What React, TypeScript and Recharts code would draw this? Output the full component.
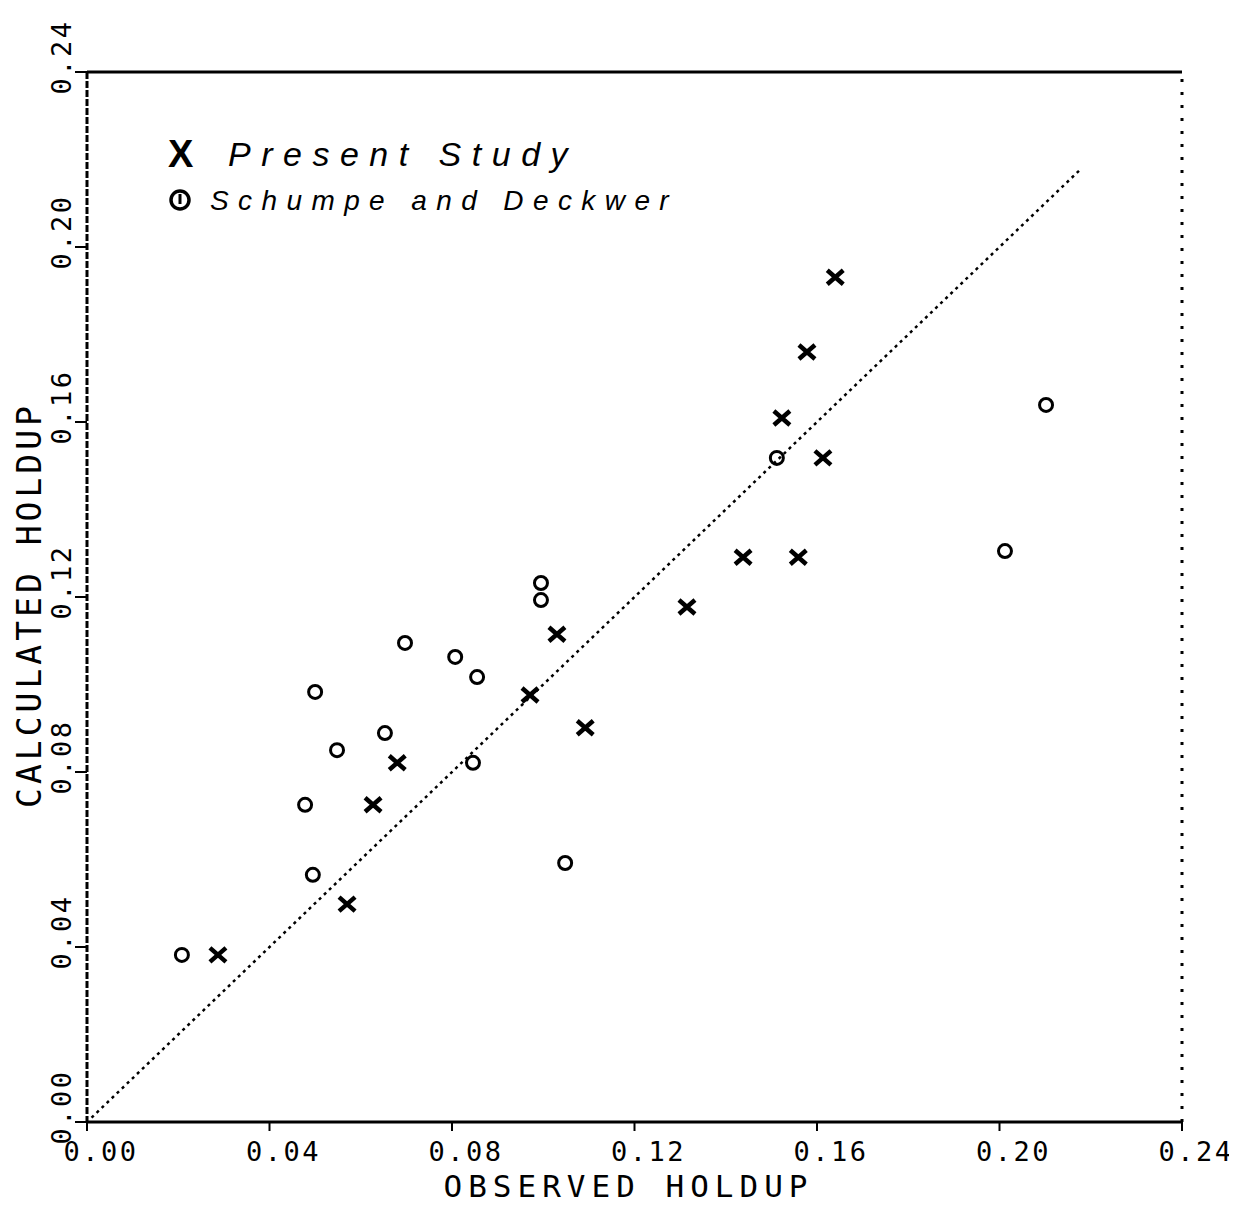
import React from 'react';
import { ScatterChart, Scatter, XAxis, YAxis, ReferenceLine, Legend, Label } from 'recharts';

// ---- data ----
const axisTicks = [0, 0.04, 0.08, 0.12, 0.16, 0.2, 0.24];
const xTickLabels = ['0.00', '0.04', '0.08', '0.12', '0.16', '0.20', '0.24'];
const yTickLabels = ['0.00', '0.04', '0.08', '0.12', '0.16', '0.20', '0.24'];

const presentObserved = [0.0287, 0.057, 0.0627, 0.068, 0.0971, 0.103, 0.1092, 0.1315, 0.1438, 0.1559, 0.1523, 0.1613, 0.1578, 0.164];
const presentCalculated = [0.0382, 0.0498, 0.0725, 0.0821, 0.0976, 0.1115, 0.0901, 0.1177, 0.1291, 0.1291, 0.1609, 0.1518, 0.176, 0.1931];

const schumpeObserved = [0.0208, 0.0495, 0.0478, 0.0548, 0.05, 0.0653, 0.0697, 0.0807, 0.0855, 0.0846, 0.0995, 0.0995, 0.1048, 0.1512, 0.2012, 0.2102];
const schumpeCalculated = [0.0382, 0.0565, 0.0725, 0.085, 0.0983, 0.0889, 0.1095, 0.1063, 0.1017, 0.0821, 0.1232, 0.1193, 0.0592, 0.1518, 0.1305, 0.1639];

const parityLine = [{ x: 0.001, y: 0.001 }, { x: 0.218, y: 0.218 }];

const seriesNames = ['Present Study', 'Schumpe and Deckwer'];
const xAxisTitle = 'OBSERVED HOLDUP';
const yAxisTitle = 'CALCULATED HOLDUP';

const presentData = presentObserved.map((x, i) => ({ x, y: presentCalculated[i] }));
const schumpeData = schumpeObserved.map((x, i) => ({ x, y: schumpeCalculated[i] }));

const MONO = '"DejaVu Sans Mono", "Liberation Mono", monospace';
const HAND = '"Liberation Sans", "DejaVu Sans", sans-serif';

const labelFor = (labels: string[], v: number) => {
  const i = axisTicks.findIndex((t) => Math.abs(t - v) < 1e-9);
  return i >= 0 ? labels[i] : String(v);
};

const XMark = (props: any) => {
  const { cx, cy } = props;
  if (cx == null || cy == null) return null;
  return (
    <path
      d={`M${cx - 8},${cy - 7}L${cx + 8},${cy + 7}M${cx + 8},${cy - 7}L${cx - 8},${cy + 7}`}
      stroke="#000"
      strokeWidth={4.5}
      fill="none"
    />
  );
};

const OMark = (props: any) => {
  const { cx, cy } = props;
  if (cx == null || cy == null) return null;
  return <circle cx={cx} cy={cy} r={6.5} stroke="#000" strokeWidth={3} fill="none" />;
};

const XTick = (props: any) => {
  const { x, y, payload } = props;
  return (
    <text
      x={x + 14}
      y={y + 18}
      textAnchor="middle"
      dominantBaseline="central"
      fontFamily={MONO}
      fontSize={27}
      letterSpacing={2.5}
      fill="#000"
    >
      {labelFor(xTickLabels, payload.value)}
    </text>
  );
};

const YTick = (props: any) => {
  const { x, y, payload } = props;
  return (
    <text
      transform={`translate(${x - 12},${y - 15}) rotate(-90)`}
      textAnchor="middle"
      dominantBaseline="central"
      fontFamily={MONO}
      fontSize={27}
      letterSpacing={2.5}
      fill="#000"
    >
      {labelFor(yTickLabels, payload.value)}
    </text>
  );
};

const renderLegend = (props: any) => {
  const payload = props.payload || [];
  return (
    <svg width={580} height={100} style={{ display: 'block' }}>
      {payload.map((entry: any) => {
        if (entry.value === seriesNames[0]) {
          return (
            <g key={entry.value}>
              <text x={0} y={37} fontFamily={HAND} fontWeight="bold" fontSize={38} fill="#000">X</text>
              <text x={60} y={36} fontFamily={HAND} fontStyle="italic" fontSize={34} letterSpacing={10.5} fill="#000">
                {entry.value}
              </text>
            </g>
          );
        }
        return (
          <g key={entry.value}>
            <circle cx={12} cy={70} r={9} stroke="#000" strokeWidth={3.5} fill="none" />
            <line x1={12} y1={64} x2={12} y2={74} stroke="#000" strokeWidth={3} />
            <text x={42} y={80} fontFamily={HAND} fontStyle="italic" fontSize={28} letterSpacing={9.4} fill="#000">
              {entry.value}
            </text>
          </g>
        );
      })}
    </svg>
  );
};

export default function App() {
  return (
    <div style={{ width: 1237, height: 1205, margin: '-8px 0 -8px -8px', background: '#fff' }}>
      <ScatterChart width={1237} height={1205} margin={{ top: 72, right: 55, bottom: 0, left: 0 }}>
        <XAxis
          type="number"
          dataKey="x"
          domain={[0, 0.24]}
          ticks={axisTicks}
          allowDataOverflow
          height={83}
          tickSize={9}
          axisLine={{ stroke: '#000', strokeWidth: 3 }}
          tickLine={{ stroke: '#000', strokeWidth: 2 }}
          tick={<XTick />}
          interval={0}
        >
          <Label
            content={(p: any) => {
              const vb = p.viewBox || { x: 87, y: 1122, width: 1095 };
              return (
                <text
                  x={vb.x + vb.width / 2 - 6}
                  y={vb.y + 64}
                  textAnchor="middle"
                  dominantBaseline="central"
                  fontFamily={MONO}
                  fontSize={31}
                  letterSpacing={6}
                  fill="#000"
                >
                  {xAxisTitle}
                </text>
              );
            }}
          />
        </XAxis>
        <YAxis
          type="number"
          dataKey="y"
          domain={[0, 0.24]}
          ticks={axisTicks}
          allowDataOverflow
          width={87}
          tickSize={12}
          axisLine={{ stroke: '#000', strokeWidth: 3, strokeDasharray: '7 2' }}
          tickLine={{ stroke: '#000', strokeWidth: 2 }}
          tick={<YTick />}
          interval={0}
        >
          <Label
            content={(p: any) => {
              const vb = p.viewBox || { x: 0, y: 72, width: 87, height: 1050 };
              const cx = vb.x + 29;
              const cy = vb.y + vb.height / 2 + 8;
              return (
                <text
                  transform={`translate(${cx},${cy}) rotate(-90)`}
                  textAnchor="middle"
                  dominantBaseline="central"
                  fontFamily={MONO}
                  fontSize={33}
                  letterSpacing={4}
                  fill="#000"
                >
                  {yAxisTitle}
                </text>
              );
            }}
          />
        </YAxis>
        <ReferenceLine y={0.24} stroke="#000" strokeWidth={3} ifOverflow="visible" />
        <ReferenceLine x={0.24} stroke="#000" strokeWidth={3} strokeDasharray="3 10" ifOverflow="visible" />
        <ReferenceLine
          segment={parityLine}
          stroke="#000"
          strokeWidth={2.5}
          strokeDasharray="3 4"
          ifOverflow="visible"
        />
        <Legend
          layout="vertical"
          align="center"
          verticalAlign="middle"
          content={renderLegend}
          wrapperStyle={{ left: 168, top: 130, width: 580, height: 100 }}
        />
        <Scatter name={seriesNames[0]} data={presentData} shape={<XMark />} isAnimationActive={false} legendType="cross" />
        <Scatter name={seriesNames[1]} data={schumpeData} shape={<OMark />} isAnimationActive={false} legendType="circle" />
      </ScatterChart>
    </div>
  );
}
